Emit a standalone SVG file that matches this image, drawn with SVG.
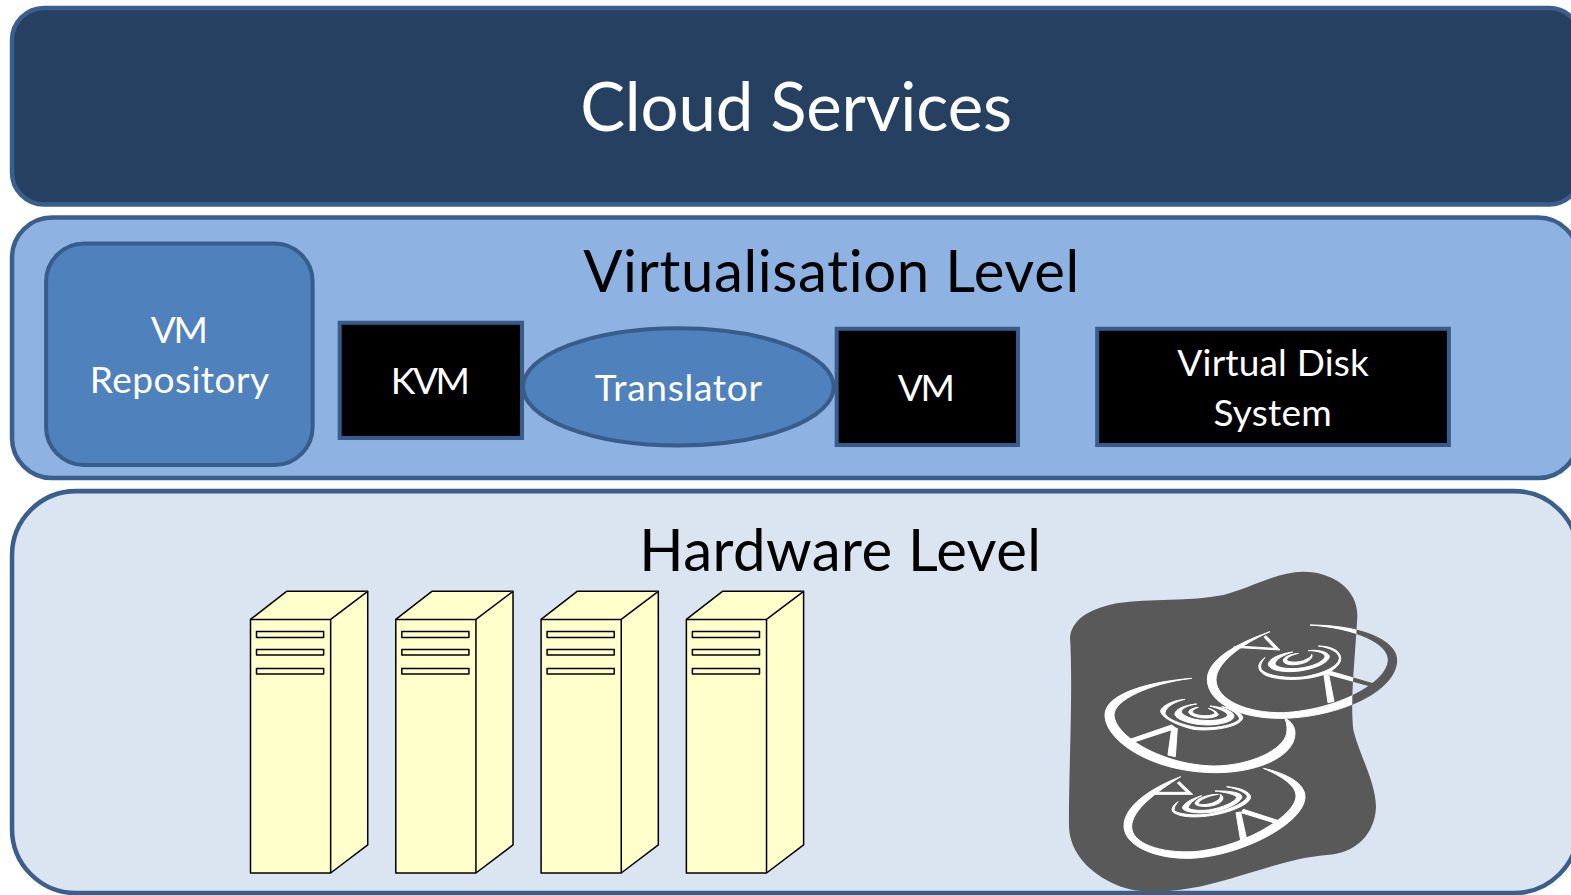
<svg xmlns="http://www.w3.org/2000/svg" xmlns:xlink="http://www.w3.org/1999/xlink" width="1571" height="895" viewBox="0 0 1571 895">
<style>
text{font-family:Lato,"Open Sans","Liberation Sans",sans-serif;text-anchor:middle;font-variant-ligatures:none}
.w{fill:#fff}.k{fill:#000}
.xl{font-size:67px}.l{font-size:58px}.m{font-size:37px}
.layer{stroke:#3a5f8c;stroke-width:4.500}
.blk{fill:#000;stroke:#385d8a;stroke-width:4}
.mid{fill:#4f81bd;stroke:#385d8a;stroke-width:4}
.srv path,.srv rect{fill:#ffffcc;stroke:#000;stroke-width:1.500;stroke-linejoin:round}
</style>
<defs>
<path id="blobp" d="M60,230C70,170 130,145 200,130C300,115 420,125 520,105C600,85 680,35 760,35C850,35 925,90 922,170C915,300 900,420 910,510C930,590 975,660 978,740C975,820 920,880 830,885C700,895 560,960 420,985C330,1000 260,1000 200,975C120,940 60,880 57,800C55,650 70,400 60,230Z"/>
<clipPath id="blobclip"><use xlink:href="#blobp" href="#blobp"/></clipPath>
<g id="discs">
<path d="M660,215C560,250 470,300 472,360C475,430 570,475 690,475C850,475 1040,400 1040,300C1040,240 930,195 780,195C920,205 1015,250 1015,300C1012,370 860,450 700,458C590,460 500,420 498,360C498,310 570,255 660,215Z"/>
<path d="M425,355C300,365 165,400 165,465C165,540 300,635 490,638C620,640 735,590 735,520C735,500 725,485 705,475C712,495 712,505 710,520C700,570 600,618 490,618C340,615 195,530 192,465C192,420 300,370 425,355Z"/>
<path d="M392,650C300,685 220,740 222,800C225,860 320,897 420,895C570,890 765,790 765,710C765,670 710,640 640,625C700,650 740,680 738,710C735,770 570,865 430,875C330,880 245,850 245,800C245,750 320,695 392,650Z"/>
<path d="M550,262L690,270L648,227L642,232L674,265L562,258Z"/>
<path d="M838,333L972,372L968,380L830,342Z"/><path d="M822,345L836,343L852,424L834,428Z"/>
<path d="M365,495L240,538L246,548L378,505Z"/><path d="M365,505L382,505L376,590L354,585Z"/>
<path d="M300,703L428,703L388,665L382,669L410,697L308,697Z"/>
<path d="M580,748L695,785L690,794L574,758Z"/><path d="M558,758L572,756L590,838L572,842Z"/>
<g transform="translate(570 180)">
<path d="M75,113C50,130 50,150 75,165C110,182 200,185 260,160C300,140 315,115 290,92C275,82 255,78 235,78C265,82 298,95 298,115C295,140 250,160 195,170C140,178 60,165 62,140C62,130 68,120 75,113Z"/>
<path d="M158,96C115,102 85,118 85,133C88,155 150,160 195,150C245,140 270,120 268,108C262,95 235,88 205,92C235,92 255,100 255,110C250,125 220,140 175,145C135,148 105,142 105,130C108,118 130,105 158,96Z"/>
<path d="M215,103C222,115 200,132 165,134C140,136 128,128 130,120C133,110 150,103 175,100C155,105 140,112 140,120C142,128 175,128 190,122C205,116 215,110 215,103Z"/>
</g>
<g transform="translate(300 390)">
<path d="M105,28C70,30 30,50 32,65C38,85 80,105 130,118C190,125 270,110 278,85C280,70 250,55 215,50C245,58 270,75 268,88C255,105 190,118 140,112C95,105 45,85 45,68C48,50 75,35 105,28Z"/>
<path d="M140,42C100,45 72,60 75,75C85,95 150,110 200,103C240,98 258,85 250,72C240,60 210,50 180,48C205,55 238,68 232,78C220,92 170,95 135,88C105,80 90,70 95,62C100,52 120,45 140,42Z"/>
<path d="M145,52C120,55 110,65 120,72C135,85 185,90 205,75C205,70 195,60 175,55C190,62 198,68 192,73C175,80 140,78 128,68C125,62 135,55 145,52Z"/>
</g>
<g transform="translate(330 645)">
<path d="M55,80C35,92 30,108 45,115C75,132 150,128 210,108C255,92 278,75 270,60C260,45 230,37 200,35C235,42 262,55 262,65C255,85 200,108 140,118C95,123 45,115 42,105C42,95 48,88 55,80Z"/>
<path d="M125,62C90,72 65,90 68,100C75,115 135,118 175,108C220,95 250,75 245,62C238,50 195,47 165,48C195,52 230,58 230,68C225,80 190,98 145,105C115,108 85,105 85,97C88,85 105,72 125,62Z"/>
<path d="M175,58C140,58 108,72 105,85C108,97 150,97 170,88C190,80 195,65 180,58C185,68 175,78 155,85C135,90 115,90 115,84C118,75 145,62 175,58Z"/>
</g>
</g>
</defs>
<rect width="1571" height="895" fill="#fff"/>
<g transform="scale(1.002 1.0023)">
<g id="cloud-services">
<rect class="layer" x="12" y="8" width="1566" height="196" rx="32" fill="#264061"/>
<text class="xl w" x="794.500" y="131" textLength="431">Cloud Services</text>
</g>
<g id="virtualisation-level">
<rect class="layer" x="12" y="217" width="1563" height="260" rx="40" fill="#8eb2e2"/>
<text class="l k" x="829.500" y="291" textLength="495">Virtualisation Level</text>
</g>
<g id="vm-repository">
<rect class="mid" x="46" y="243" width="266" height="221" rx="38"/>
<text class="m w" x="179" y="342" textLength="57">VM</text><text class="m w" x="179" y="392" textLength="179">Repository</text>
</g>
<g id="kvm"><rect class="blk" x="339" y="322" width="182" height="115"/><text class="m w" x="429.500" y="393" textLength="79">KVM</text></g>
<g id="translator"><ellipse class="mid" cx="677" cy="386" rx="155" ry="58.500"/><text class="m w" x="677" y="400" textLength="167">Translator</text></g>
<g id="vm"><rect class="blk" x="835" y="328" width="181" height="116"/><text class="m w" x="924.500" y="400" textLength="57">VM</text></g>
<g id="virtual-disk-system"><rect class="blk" x="1095" y="328" width="351" height="116"/><text class="m w" x="1270.500" y="375" textLength="191">Virtual Disk</text><text class="m w" x="1270" y="425" textLength="118">System</text></g>
<g id="hardware-level">
<rect class="layer" x="12" y="490" width="1563" height="401" rx="64" fill="#dbe5f1"/>
<text class="l k" x="838.500" y="570" textLength="401">Hardware Level</text>
</g>
<g id="server-1" class="srv">
<path d="M250,618L286,590H367V843L330,871H250Z"/><path d="M250,618H330L367,590M330,618V871"/>
<rect x="256" y="630" width="67" height="6"/><rect x="256" y="648" width="67" height="5.500"/><rect x="256" y="667" width="67" height="5.500"/>
</g>
<g id="server-2" class="srv" transform="translate(145 0)">
<path d="M250,618L286,590H367V843L330,871H250Z"/><path d="M250,618H330L367,590M330,618V871"/>
<rect x="256" y="630" width="67" height="6"/><rect x="256" y="648" width="67" height="5.500"/><rect x="256" y="667" width="67" height="5.500"/>
</g>
<g id="server-3" class="srv" transform="translate(290 0)">
<path d="M250,618L286,590H367V843L330,871H250Z"/><path d="M250,618H330L367,590M330,618V871"/>
<rect x="256" y="630" width="67" height="6"/><rect x="256" y="648" width="67" height="5.500"/><rect x="256" y="667" width="67" height="5.500"/>
</g>
<g id="server-4" class="srv" transform="translate(435 0)">
<path d="M250,618L286,590H367V843L330,871H250Z"/><path d="M250,618H330L367,590M330,618V871"/>
<rect x="256" y="630" width="67" height="6"/><rect x="256" y="648" width="67" height="5.500"/><rect x="256" y="667" width="67" height="5.500"/>
</g>
</g>
<g id="disk-storage" transform="translate(1050 560) scale(.33333)">
<use xlink:href="#blobp" href="#blobp" fill="#595959"/>
<use xlink:href="#discs" href="#discs" fill="#595959" stroke="#595959" stroke-width="3"/>
<g clip-path="url(#blobclip)"><use xlink:href="#discs" href="#discs" fill="#fff" stroke="#fff" stroke-width="3"/></g>
</g>
</svg>
